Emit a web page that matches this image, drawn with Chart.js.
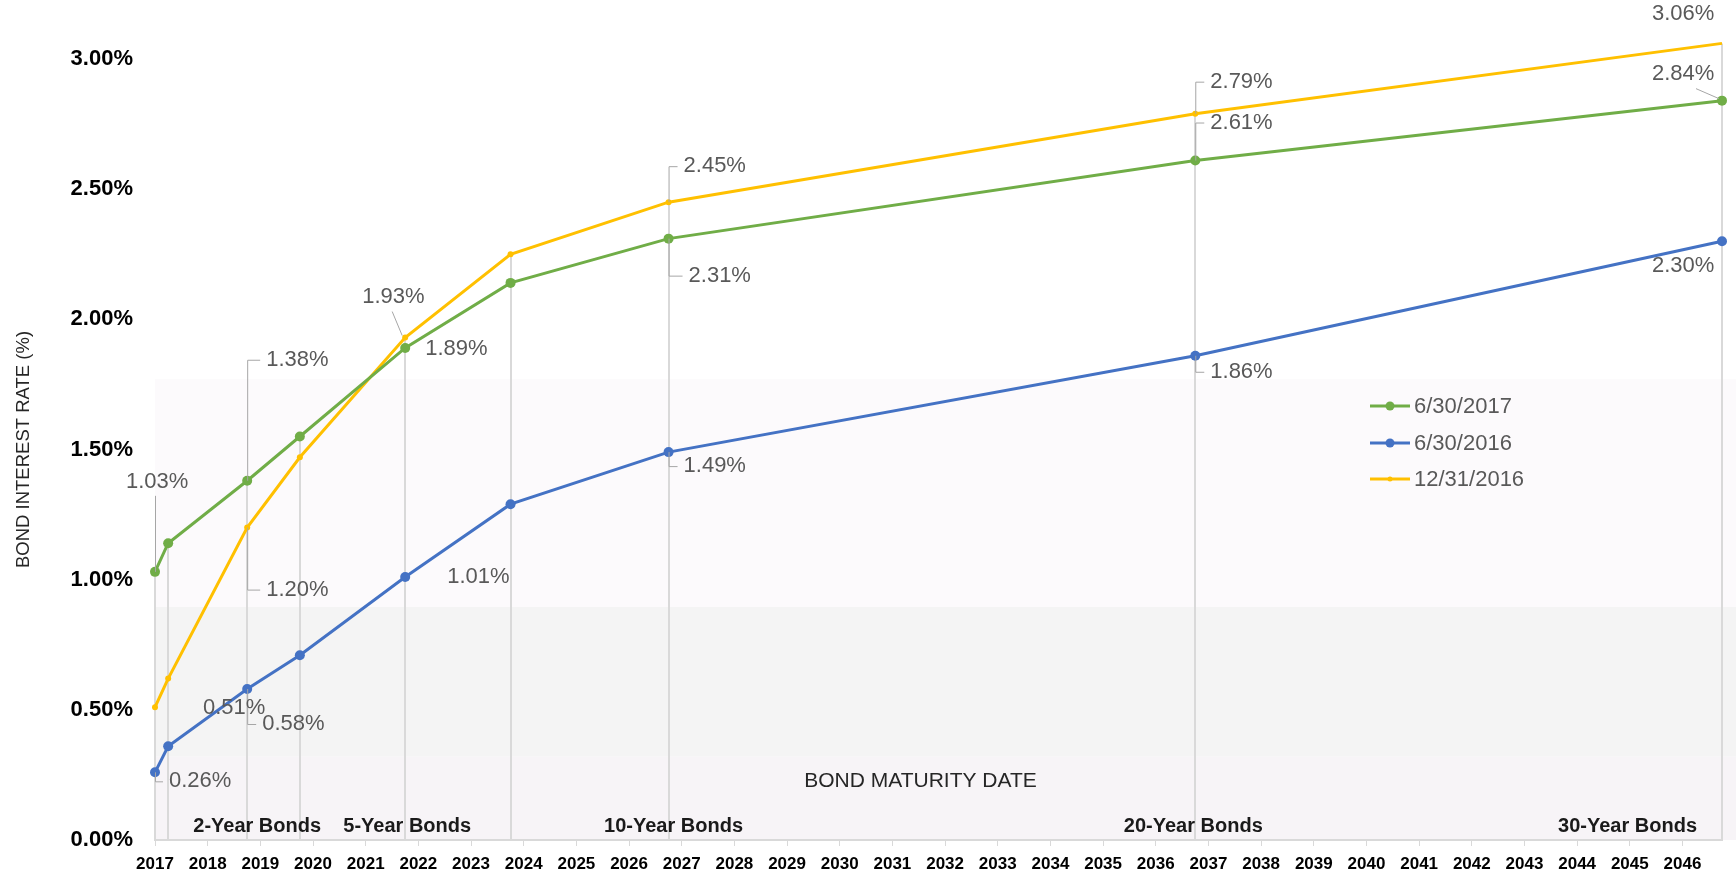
<!DOCTYPE html>
<html>
<head>
<meta charset="utf-8">
<title>Bond yield curve</title>
<script src="https://cdn.jsdelivr.net/npm/chart.js@4.4.1/dist/chart.umd.min.js"></script>
<style>
  html, body { margin: 0; padding: 0; background: #fff; }
  #wrap { width: 1736px; height: 871px; }
</style>
</head>
<body>
<div id="wrap"><canvas id="chart" width="1736" height="871"></canvas></div>
<script>
// data
const maturityDates = [2017, 2017.25, 2018.75, 2019.75, 2021.75, 2023.75, 2026.75, 2036.75, 2046.75];
const seriesNames = ['6/30/2017', '6/30/2016', '12/31/2016'];
const ratesJun2017 = [1.03, 1.14, 1.38, 1.55, 1.89, 2.14, 2.31, 2.61, 2.84];
const ratesJun2016 = [0.26, 0.36, 0.58, 0.71, 1.01, 1.29, 1.49, 1.86, 2.30];
const ratesDec2016 = [0.51, 0.62, 1.20, 1.47, 1.93, 2.25, 2.45, 2.79, 3.06];
const yearTicks = [2017, 2018, 2019, 2020, 2021, 2022, 2023, 2024, 2025, 2026, 2027, 2028, 2029, 2030, 2031,
  2032, 2033, 2034, 2035, 2036, 2037, 2038, 2039, 2040, 2041, 2042, 2043, 2044, 2045, 2046];
const rateTicks = [0, 0.5, 1, 1.5, 2, 2.5, 3];
const bondLabels = ['2-Year Bonds', '5-Year Bonds', '10-Year Bonds', '20-Year Bonds', '30-Year Bonds'];
const bondLabelIndex = [2, 4, 6, 7, 8];

// look & layout
const FONT = "'Liberation Sans', Arial, sans-serif";
const colors = ['#70AD47', '#4472C4', '#FFC000'];
const pointSizes = [5, 5, 3];
const bandEdges = [1.77, 0.895, 0.32, 0];
const bandColors = ['#fcfafc', '#f4f4f4', '#f7f4f7'];

// where each value label sits, relative to its point (px)
const labelLayout = [
  [ {i: 0, dx: -29, dy: -90, lead: 'vert'}, {i: 2, dx: 19, dy: -121, lead: 'elbow'}, {i: 4, dx: 20, dy: 1},
    {i: 6, dx: 20, dy: 37, lead: 'elbow'}, {i: 7, dx: 15, dy: -38, lead: 'elbow'},
    {i: 8, dx: -70, dy: -27, lead: 'diag', lx: -26, ly: -12} ],
  [ {i: 0, dx: 14, dy: 9, lead: 'elbow'}, {i: 2, dx: 15, dy: 35, lead: 'elbow'}, {i: 4, dx: 42, dy: 0},
    {i: 6, dx: 15, dy: 14, lead: 'elbow'}, {i: 7, dx: 15, dy: 16, lead: 'elbow'}, {i: 8, dx: -70, dy: 25} ],
  [ {i: 0, dx: 48, dy: 1}, {i: 2, dx: 19, dy: 62, lead: 'elbow'},
    {i: 4, dx: -43, dy: -41, lead: 'diag', lx: -13, ly: -26},
    {i: 6, dx: 15, dy: -36, lead: 'elbow'}, {i: 7, dx: 15, dy: -32, lead: 'elbow'}, {i: 8, dx: -70, dy: -29} ]
];
const bondLabelShift = [10, 2, 5, -2, -25];

const allRates = [ratesJun2017, ratesJun2016, ratesDec2016];

const decor = {
  id: 'decor',
  beforeDraw(chart) {
    const {ctx, chartArea, scales: {y}} = chart;
    ctx.save();
    for (let b = 0; b < bandColors.length; b++) {
      const top = y.getPixelForValue(bandEdges[b]);
      const bot = y.getPixelForValue(bandEdges[b + 1]);
      ctx.fillStyle = bandColors[b];
      ctx.fillRect(chartArea.left, top, chart.width - chartArea.left, bot - top);
    }
    ctx.restore();
  },
  beforeDatasetsDraw(chart) {
    const {ctx, chartArea, scales: {x, y}} = chart;
    ctx.save();
    ctx.strokeStyle = '#d9d9d9';
    ctx.lineWidth = 2;
    maturityDates.forEach((d, i) => {
      const top = Math.max(...allRates.map(r => r[i]));
      const px = Math.round(x.getPixelForValue(d));
      ctx.beginPath();
      ctx.moveTo(px, y.getPixelForValue(top));
      ctx.lineTo(px, chartArea.bottom);
      ctx.stroke();
    });
    ctx.restore();
  },
  afterDatasetsDraw(chart) {
    const {ctx, chartArea, scales: {x, y}} = chart;
    ctx.save();

    // value labels with leader lines
    ctx.font = '22px ' + FONT;
    ctx.textBaseline = 'middle';
    ctx.textAlign = 'left';
    labelLayout.forEach((list, s) => {
      list.forEach(l => {
        const px = x.getPixelForValue(maturityDates[l.i]);
        const py = y.getPixelForValue(allRates[s][l.i]);
        const lx = px + l.dx, ly = py + l.dy;
        ctx.strokeStyle = '#a6a6a6';
        ctx.lineWidth = 1;
        ctx.beginPath();
        if (l.lead === 'elbow') {
          ctx.moveTo(px + 0.5, py);
          ctx.lineTo(px + 0.5, ly + 0.5);
          ctx.lineTo(lx - 6, ly + 0.5);
        } else if (l.lead === 'vert') {
          ctx.moveTo(px + 0.5, py);
          ctx.lineTo(px + 0.5, ly + 14);
        } else if (l.lead === 'diag') {
          ctx.moveTo(px + l.lx, py + l.ly);
          ctx.lineTo(px - 3, py - 2);
        }
        ctx.stroke();
        ctx.fillStyle = '#595959';
        ctx.fillText(allRates[s][l.i].toFixed(2) + '%', lx, ly);
      });
    });

    // bond maturity group labels
    ctx.fillStyle = '#1a1a1a';
    ctx.font = 'bold 20px ' + FONT;
    bondLabels.forEach((t, k) => {
      const px = x.getPixelForValue(maturityDates[bondLabelIndex[k]]) + bondLabelShift[k];
      ctx.textAlign = k === bondLabels.length - 1 ? 'right' : 'center';
      ctx.fillText(t, px, chartArea.bottom - 14);
    });

    // axis title drawn inside the plot
    ctx.font = '21px ' + FONT;
    ctx.textAlign = 'center';
    ctx.fillStyle = '#262626';
    ctx.fillText('BOND MATURITY DATE', (chartArea.left + chartArea.right) / 2 - 18, chartArea.bottom - 59);

    // legend
    const lgX = 1370, lgY = [406, 443, 479];
    seriesNames.forEach((name, s) => {
      ctx.strokeStyle = colors[s];
      ctx.lineWidth = 3;
      ctx.beginPath();
      ctx.moveTo(lgX, lgY[s]);
      ctx.lineTo(lgX + 40, lgY[s]);
      ctx.stroke();
      ctx.fillStyle = colors[s];
      ctx.beginPath();
      ctx.arc(lgX + 20, lgY[s], pointSizes[s] - 0.5, 0, Math.PI * 2);
      ctx.fill();
      ctx.fillStyle = '#595959';
      ctx.font = '22px ' + FONT;
      ctx.textAlign = 'left';
      ctx.fillText(name, lgX + 44, lgY[s] + 1);
    });
    ctx.restore();
  }
};

const datasets = seriesNames.map((name, s) => ({
  label: name,
  data: maturityDates.map((d, i) => ({x: d, y: allRates[s][i]})),
  borderColor: colors[s],
  backgroundColor: colors[s],
  borderWidth: 3,
  pointRadius: pointSizes[s],
  pointBorderWidth: 0,
  pointHoverRadius: pointSizes[s],
  tension: 0,
  clip: false
}));

new Chart(document.getElementById('chart'), {
  type: 'line',
  data: { datasets },
  options: {
    responsive: false,
    animation: false,
    layout: { padding: { top: 59, right: 14, bottom: 0, left: 0 } },
    plugins: { legend: { display: false }, tooltip: { enabled: false } },
    scales: {
      x: {
        type: 'linear',
        min: 2017,
        max: 2046.75,
        afterBuildTicks: s => { s.ticks = yearTicks.map(v => ({value: v})); },
        afterFit: s => { s.height = 31; },
        ticks: {
          callback: v => String(v),
          color: '#000',
          font: { family: FONT, size: 17, weight: 'bold' },
          padding: 8,
          maxRotation: 0,
          autoSkip: false
        },
        grid: { display: true, drawOnChartArea: false, drawTicks: true, tickLength: 6, color: '#d9d9d9' },
        border: { display: true, color: '#d9d9d9', width: 2 }
      },
      y: {
        min: 0,
        max: 3,
        afterBuildTicks: s => { s.ticks = rateTicks.map(v => ({value: v})); },
        afterFit: s => { s.width = 155; },
        ticks: {
          callback: v => v.toFixed(2) + '%',
          color: '#000',
          font: { family: FONT, size: 22, weight: 'bold' },
          padding: 14
        },
        grid: { display: false },
        border: { display: false },
        title: {
          display: true,
          text: 'BOND INTEREST RATE (%)',
          color: '#262626',
          font: { family: FONT, size: 18.5 },
          padding: { top: 13, bottom: 0 }
        }
      }
    }
  },
  plugins: [decor]
});
</script>
</body>
</html>
